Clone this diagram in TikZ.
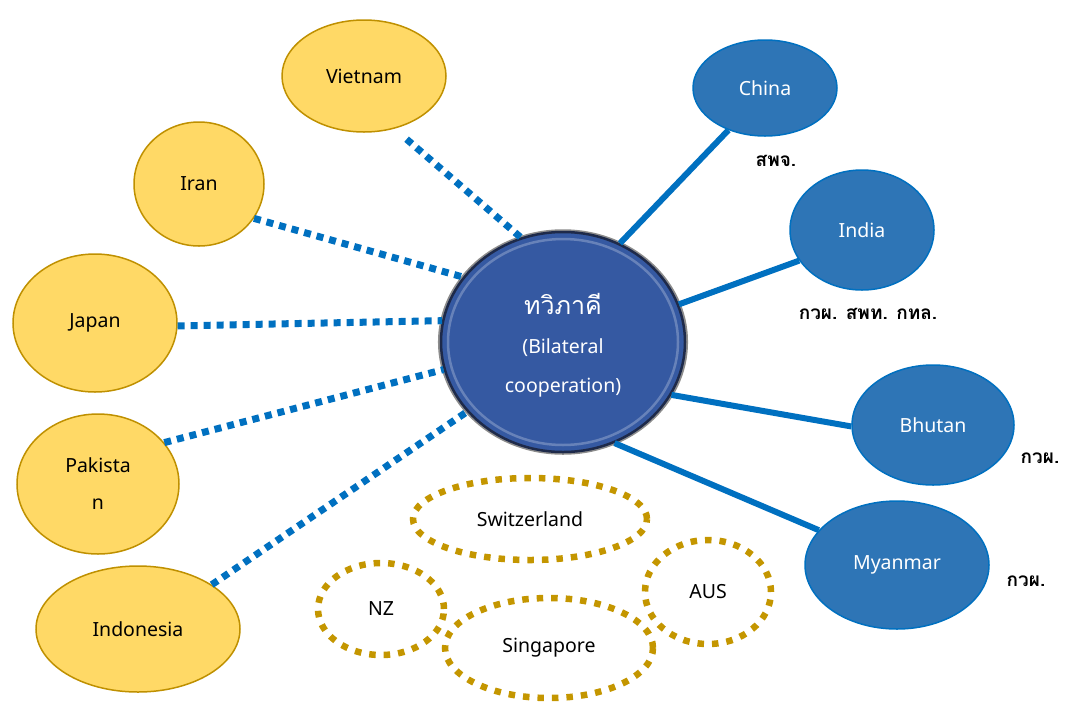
\documentclass[tikz,border=0pt]{standalone}
\usepackage{fontspec}
\setmainfont{Noto Sans}
\newfontfamily\thaifont[Script=Thai]{Loma}
\usetikzlibrary{shapes.geometric,shadows}
\definecolor{yfill}{HTML}{FFD966}
\definecolor{ydraw}{HTML}{BF9000}
\definecolor{bfill}{HTML}{2E75B6}
\definecolor{bdraw}{HTML}{0070C0}
\definecolor{lblue}{HTML}{0070C0}
\definecolor{gold}{HTML}{C49600}
\definecolor{cfill}{HTML}{3559A2}
\definecolor{cdark}{HTML}{1E2A4A}
\begin{document}
\begin{tikzpicture}[x=1pt,y=-1pt,
  lbl/.style={font=\fontsize{19.5}{37}\selectfont, align=center},
  yel/.style={ellipse, fill=yfill, draw=ydraw, line width=1.5pt, inner sep=0pt, lbl},
  blu/.style={ellipse, fill=bfill, draw=bdraw, line width=1.5pt, inner sep=0pt, text=white, lbl},
  gld/.style={ellipse, draw=gold, line width=6.5pt, dash pattern=on 6.5pt off 8pt, inner sep=0pt, lbl},
  hub/.style={ellipse, fill=cfill, draw=cdark, line width=2.5pt, inner sep=0pt, text=white,
              font=\fontsize{19.5}{39}\selectfont, align=center,
              drop shadow={shadow xshift=0pt, shadow yshift=0pt, shadow scale=1.025, opacity=0.45, fill=black}},
  solidlink/.style={draw=lblue, line width=6pt},
  dotlink/.style={draw=lblue, line width=7pt, dash pattern=on 7pt off 6pt},
  thailbl/.style={font=\thaifont\bfseries\fontsize{19}{22}\selectfont, inner sep=0pt}
]
\useasboundingbox (0,0) rectangle (1068,702);

\coordinate (hubc) at (563,342);

% left yellow nodes
\node[yel, minimum width=164pt, minimum height=112pt] (viet) at (364,76) {Vietnam};
\node[yel, minimum width=130pt, minimum height=124pt] (iran) at (199,184) {Iran};
\node[yel, minimum width=164pt, minimum height=138pt] (japan) at (95,323) {Japan};
\node[yel, minimum width=162pt, minimum height=140pt] (pak) at (98,484) {Pakista\\n};
\node[yel, minimum width=204pt, minimum height=126pt] (indo) at (138,629) {Indonesia};

% right blue nodes
\node[blu, minimum width=144pt, minimum height=96pt] (china) at (765,88) {China};
\node[blu, minimum width=144pt, minimum height=120pt] (india) at (862,230) {India};
\node[blu, minimum width=162pt, minimum height=120pt] (bhutan) at (933,425) {Bhutan};
\node[blu, minimum width=184pt, minimum height=128pt] (myan) at (897,565) {Myanmar};

% centre node
\node[hub, minimum width=244pt, minimum height=220pt] (hub) at (hubc)
  {\rule{0pt}{28pt}{\thaifont\fontsize{25}{39}\selectfont ทวิภาคี}\\(Bilateral\\cooperation)};
\draw[white, opacity=0.25, line width=2.5pt] (563,342) ellipse [x radius=115, y radius=103];

% dotted gold nodes
\node[gld, minimum width=234pt, minimum height=82pt] (swiss) at (530,519) {Switzerland};
\node[gld, minimum width=126pt, minimum height=92pt] (nz) at (381,609) {NZ};
\node[gld, minimum width=208pt, minimum height=100pt] (sing) at (549,648) {Singapore};
\node[gld, minimum width=126pt, minimum height=104pt] (aus) at (708,592) {AUS};

% solid connectors
\draw[solidlink] (hub.60.4) -- (china.229);
\draw[solidlink] (hub.18.9) -- (india.206);
\draw[solidlink] (hub.334.5) -- (bhutan.181);
\draw[solidlink] (hub.297.8) -- (myan.156.7);

% dotted connectors
\draw[dotlink, shorten <=16pt] (viet.300.5) -- (hub.112.9);
\draw[dotlink] (iran.328.4) -- (hub.147.8);
\draw[dotlink] (japan.358.5) -- (hub.170.7);
\draw[dotlink] (pak.32.6) -- (hub.193.8);
\draw[dotlink] (indo.31.4) -- (hub.216.2);

% Thai labels
\node[thailbl] (lchina) at (776,161) {สพจ.};
\node[thailbl] (lindia) at (868,314) {กวผ. สพท. กทล.};
\node[thailbl] (lbhutan) at (1040,458) {กวผ.};
\node[thailbl] (lmyan) at (1026,581) {กวผ.};
\end{tikzpicture}
\end{document}
